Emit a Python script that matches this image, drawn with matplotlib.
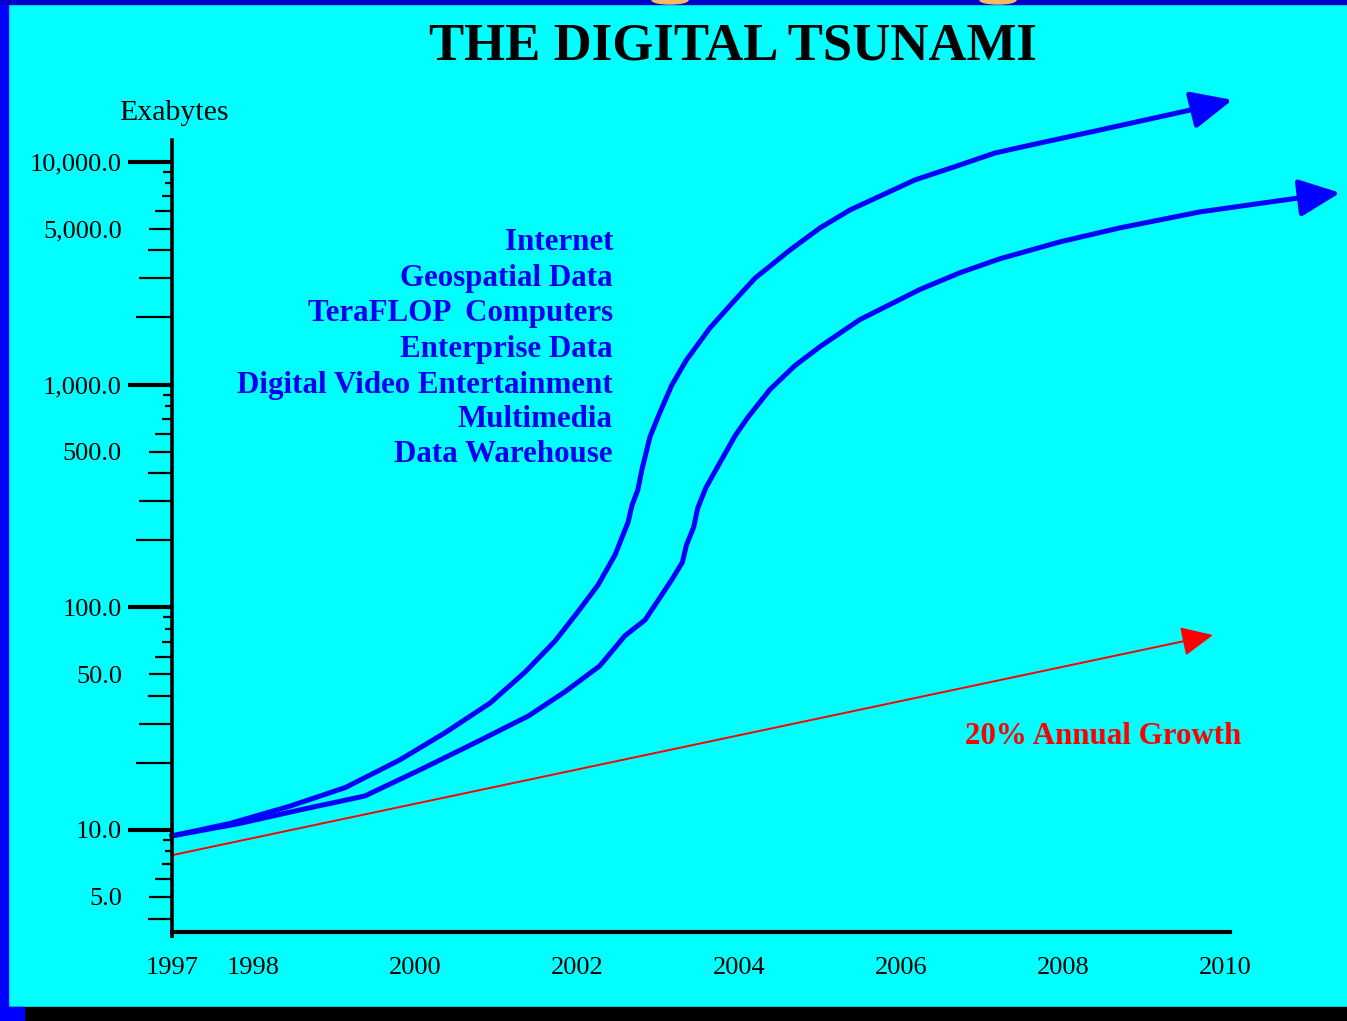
import matplotlib
matplotlib.use("Agg")
import matplotlib.pyplot as plt
import matplotlib.transforms as mtransforms
from matplotlib.patches import Rectangle, Ellipse

# ---------------- data ----------------
upper_years = [1997.0, 1997.72, 1998.46, 1999.14, 1999.81, 2000.37, 2000.93, 2001.36,
               2001.73, 2002.01, 2002.26, 2002.47, 2002.63, 2002.68, 2002.75, 2002.80,
               2002.90, 2003.02, 2003.17, 2003.35, 2003.64, 2003.95, 2004.20, 2004.63,
               2005.00, 2005.37, 2006.17, 2006.73, 2007.16, 2007.72, 2008.46, 2009.69]
upper_vals = [9.4, 10.7, 12.8, 15.5, 20.6, 27.3, 37.2, 51.2,
              70.6, 95.3, 126, 172, 241, 288, 336, 414,
              582, 745, 995, 1288, 1794, 2397, 3010, 4020,
              5050, 6080, 8290, 9690, 10960, 12160, 13910, 17460]
upper_tip = (2010.09, 18970)

lower_years = [1997.0, 1997.84, 1998.58, 1999.38, 2000.06, 2000.74, 2001.40, 2001.85,
               2002.28, 2002.59, 2002.84, 2003.02, 2003.17, 2003.30, 2003.35, 2003.44,
               2003.49, 2003.59, 2003.77, 2003.95, 2004.11, 2004.38, 2004.69, 2005.00,
               2005.49, 2006.23, 2006.73, 2007.22, 2007.96, 2008.70, 2009.69, 2010.93]
lower_vals = [9.4, 10.7, 12.3, 14.2, 18.6, 24.6, 32.5, 41.7,
              54.5, 74.4, 87.7, 110, 133, 159, 190, 229,
              279, 344, 450, 588, 713, 949, 1216, 1480,
              1955, 2670, 3180, 3670, 4370, 5050, 5960, 6900]
lower_tip = (2011.42, 7260)

growth_years = [1997.0, 2009.85]
growth_vals = [7.7, 75.0]

data_sources = ["Internet", "Geospatial Data", "TeraFLOP  Computers", "Enterprise Data",
                "Digital Video Entertainment", "Multimedia", "Data Warehouse"]

ytick_vals = [5, 10, 50, 100, 500, 1000, 5000, 10000]
ytick_labels = ["5.0", "10.0", "50.0", "100.0", "500.0", "1,000.0", "5,000.0", "10,000.0"]
xtick_vals = [1997, 1998, 2000, 2002, 2004, 2006, 2008, 2010]
xtick_labels = ["1997", "1998", "2000", "2002", "2004", "2006", "2008", "2010"]

# ---------------- figure ----------------
W, H = 1347, 1021
DPI = 100
CYAN = "#00FFFF"
BLUE = "#0000F0"
SERIF = ["Liberation Serif", "DejaVu Serif"]

fig = plt.figure(figsize=(W / DPI, H / DPI), dpi=DPI, facecolor=CYAN)

def fx(px):
    return px / W

def fy(py):
    return 1 - py / H

# frame decorations
fig.patches.append(Rectangle((0, 0), fx(8), 1, transform=fig.transFigure, color="#0000FF", zorder=0))
fig.patches.append(Rectangle((0, fy(4)), 1, fy(0) - fy(4), transform=fig.transFigure, color="#0000C8", zorder=0))
fig.patches.append(Rectangle((0, 0), 1, fy(1007), transform=fig.transFigure, color="black", zorder=0))
fig.patches.append(Rectangle((0, 0), fx(24), fy(1007), transform=fig.transFigure, color="#0000FF", zorder=1))
for cx in (670, 998):
    fig.patches.append(Ellipse((fx(cx), fy(0)), fx(36), (fy(0) - fy(8)), transform=fig.transFigure,
                               color="#F5B865", zorder=1))

# axes
x0, x1 = 172, 1230
ytop, ybot = 140, 932
ax = fig.add_axes([fx(x0), fy(ybot), fx(x1) - fx(x0), fy(ytop) - fy(ybot)])
ax.set_facecolor("none")
ax.set_yscale("log")
ax.set_xlim(1997, 2010.06)
ax.set_ylim(3.48, 12530)

for s in ("top", "right"):
    ax.spines[s].set_visible(False)
ax.spines["left"].set_linewidth(2.6)
ax.spines["bottom"].set_linewidth(3.0)
ax.spines["left"].set_zorder(5)

# ticks
ax.minorticks_off()
ax.set_yticks(ytick_vals)
ax.set_yticklabels(ytick_labels, fontsize=19, family=SERIF)
ax.tick_params(axis="y", length=0, pad=36)
ax.set_xticks(xtick_vals)
ax.set_xticklabels(xtick_labels, fontsize=19, family=SERIF)
ax.tick_params(axis="x", length=0, pad=18)

axw = x1 - x0
blend = mtransforms.blended_transform_factory(ax.transAxes, ax.transData)
mant_len = {1: 44, 2: 36, 3: 33, 4: 24, 5: 23, 6: 17, 7: 10, 8: 7, 9: 9}
for dec in (1, 10, 100, 1000, 10000):
    for m in range(1, 10):
        v = m * dec
        if v < 3.6 or v > 10000:
            continue
        L = mant_len[m]
        lw = 3.0 if m == 1 else 1.6
        ax.plot([-L / axw, 0], [v, v], transform=blend, color="black", lw=lw,
                clip_on=False, solid_capstyle="butt", zorder=5)
# small extension of y spine below x axis
ax.plot([0, 0], [0, -6 / (ybot - ytop)], transform=ax.transAxes, color="black", lw=2.6,
        clip_on=False, solid_capstyle="butt")

# curves
lw_blue = 3.6
ax.plot(upper_years, upper_vals, color="#0000FF", lw=lw_blue, clip_on=False, zorder=4,
        solid_joinstyle="miter")
ax.plot(lower_years, lower_vals, color="#0000FF", lw=lw_blue, clip_on=False, zorder=4,
        solid_joinstyle="miter")
ax.annotate("", xy=upper_tip, xytext=(upper_years[-1], upper_vals[-1]),
            arrowprops=dict(arrowstyle="-|>,head_length=1.8,head_width=0.82", color="#0000FF",
                            lw=lw_blue, shrinkA=0, shrinkB=0, mutation_scale=14),
            annotation_clip=False, zorder=4)
ax.annotate("", xy=lower_tip, xytext=(lower_years[-1], lower_vals[-1]),
            arrowprops=dict(arrowstyle="-|>,head_length=1.8,head_width=0.82", color="#0000FF",
                            lw=lw_blue, shrinkA=0, shrinkB=0, mutation_scale=14),
            annotation_clip=False, zorder=4)

# 20% growth line
ax.annotate("", xy=(growth_years[1], growth_vals[1]), xytext=(growth_years[0], growth_vals[0]),
            arrowprops=dict(arrowstyle="-|>,head_length=1.4,head_width=0.65", color="#FF0000",
                            lw=1.4, shrinkA=0, shrinkB=0, mutation_scale=14),
            annotation_clip=False, zorder=3)

# texts
fig.text(fx(733), fy(46), "THE DIGITAL TSUNAMI", ha="center", va="center",
         fontsize=38, fontweight="bold", family=SERIF, color="black")
fig.text(fx(174), fy(113), "Exabytes", ha="center", va="center", fontsize=21.5,
         family=SERIF, color="black")
label_y = [242, 278, 313, 349, 385, 419, 455]
for name, py in zip(data_sources, label_y):
    fig.text(fx(613), fy(py), name, ha="right", va="center", fontsize=22.3,
             fontweight="bold", family=SERIF, color=BLUE)
fig.text(fx(1241), fy(737), "20% Annual Growth", ha="right", va="center", fontsize=22.2,
         fontweight="bold", family=SERIF, color="#FF0000")

fig.savefig("out.png", dpi=DPI, facecolor=CYAN)
